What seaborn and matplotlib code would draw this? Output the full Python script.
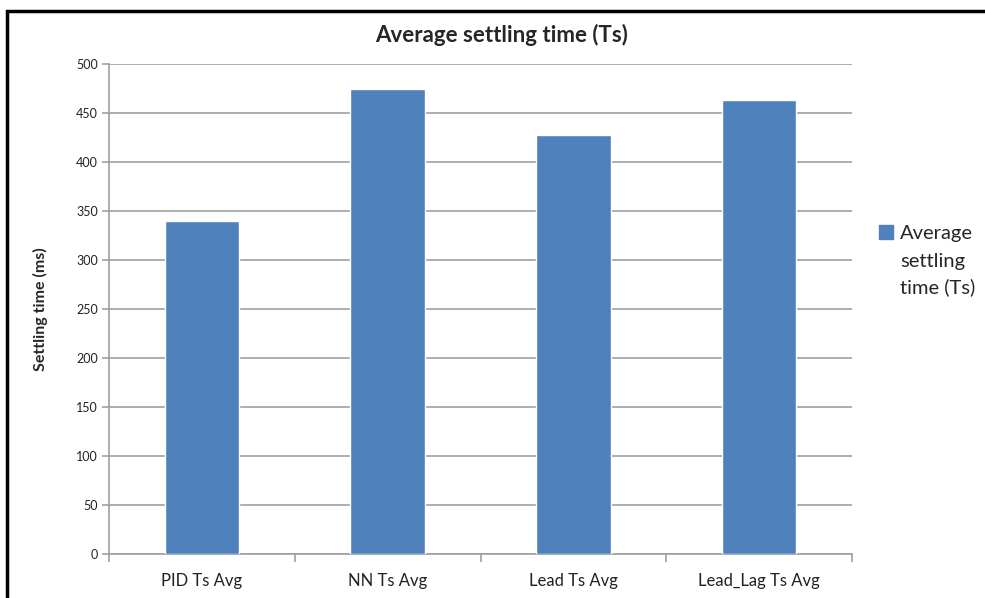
import matplotlib
matplotlib.use("Agg")
import matplotlib.pyplot as plt
import seaborn as sns
import pandas as pd
from matplotlib.patches import Rectangle
from matplotlib.lines import Line2D

categories = ["PID Ts Avg", "NN Ts Avg", "Lead Ts Avg", "Lead_Lag Ts Avg"]
settling_ms = [340, 474, 428, 463]
series_name = "Average settling time (Ts)"
legend_lines = ["Average", "settling", "time (Ts)"]
y_ticks = [0, 50, 100, 150, 200, 250, 300, 350, 400, 450, 500]

sns.set_theme(style="white")
plt.rcParams["font.family"] = ["Lato", "DejaVu Sans"]

df = pd.DataFrame({"category": categories, "value": settling_ms})
bar_color = "#4F81BD"
grid_color = "#A0A0A0"

fig = plt.figure(figsize=(9.85, 5.98), dpi=100)
ax = fig.add_axes([109 / 985, 1 - 554 / 598, (852 - 109) / 985, (554 - 64) / 598])

sns.barplot(data=df, x="category", y="value", color=bar_color, width=0.4,
            saturation=1, ax=ax, zorder=3)

ax.set_ylim(0, 500)
ax.set_xlim(-0.5, len(categories) - 0.5)
ax.set_yticks(y_ticks)
ax.set_yticklabels([str(v) for v in y_ticks], fontsize=9, color="#222222")
ax.yaxis.grid(True, color=grid_color, linewidth=1.2, zorder=0)
ax.set_axisbelow(True)

for side in ["top", "right"]:
    ax.spines[side].set_visible(False)
for side in ["left", "bottom"]:
    ax.spines[side].set_color(grid_color)
    ax.spines[side].set_linewidth(1.2)

ax.tick_params(axis="y", which="major", left=True, length=5, width=1.2,
               color=grid_color, pad=3)
ax.tick_params(axis="x", which="major", bottom=False, labelsize=12,
               labelcolor="#222222", pad=8)
# category boundary ticks on the x axis
ax.set_xticks([i - 0.5 for i in range(len(categories) + 1)], minor=True)
ax.tick_params(axis="x", which="minor", bottom=True, length=6, width=1.2,
               color=grid_color)

ax.set_xlabel("")
ax.set_ylabel("Settling time (ms)", fontsize=11.5, fontweight="bold",
              labelpad=20)
fig.text(502 / 985, 1 - 35 / 598, series_name, fontsize=16, fontweight="bold",
         ha="center", va="center")

handle = Line2D([], [], marker="s", linestyle="none", markersize=10,
                markerfacecolor=bar_color, markeredgecolor=bar_color)
leg = fig.legend([handle], [legend_lines[0]], loc="upper left",
                 bbox_to_anchor=(868 / 985, 1 - 217 / 598), frameon=False,
                 fontsize=14.5, handletextpad=0.2, handlelength=1.0,
                 borderaxespad=0)

fig.canvas.draw()
renderer = fig.canvas.get_renderer()
first = leg.get_texts()[0].get_window_extent(renderer)
x0 = fig.transFigure.inverted().transform((first.x0, first.y0))[0]
fig.text(x0, 1 - 253 / 598, "\n".join(legend_lines[1:]), fontsize=14.5,
         ha="left", va="top", linespacing=1.55)

# outer chart frame
fig.patches.append(Rectangle((7 / 985, -0.05), 1.1, 1 - 11 / 598 + 0.05,
                             transform=fig.transFigure, fill=False,
                             edgecolor="black", linewidth=2.5))

fig.savefig("out.png", dpi=100)
